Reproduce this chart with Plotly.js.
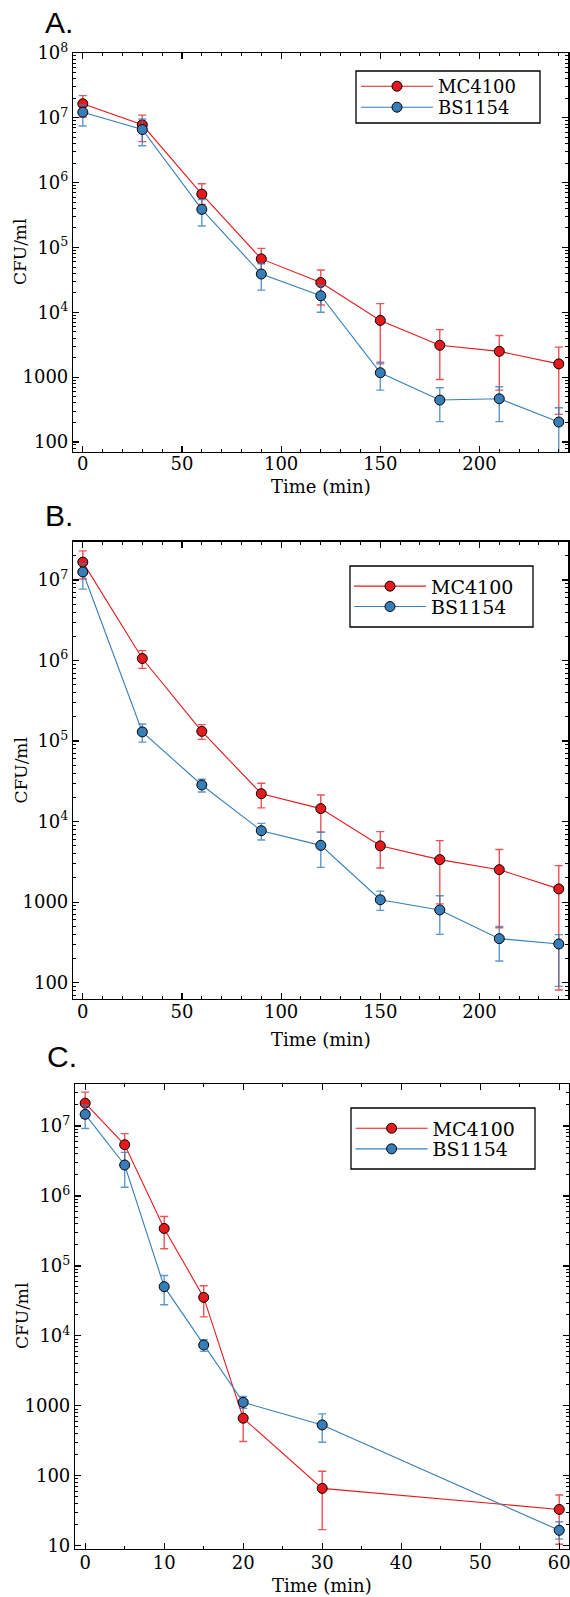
<!DOCTYPE html>
<html>
<head>
<meta charset="utf-8">
<script src="https://cdn.plot.ly/plotly-3.0.1.min.js"></script>
<style>html,body{margin:0;padding:0;background:#fff;}</style>
</head>
<body>
<div id="chart" style="width:570px;height:1597px;"></div>
<script>
// ---------------- data ----------------
const timesAB = [0, 30, 60, 90, 120, 150, 180, 210, 240];
const timesC = [0, 5, 10, 15, 20, 30, 60];

// Panel A
const aMC   = [1.65e7, 7.8e6, 6.65e5, 6.67e4, 2.88e4, 7.5e3, 3.1e3, 2.5e3, 1.6e3];
const aMCHi = [2.2e7, 1.1e7, 9.6e5, 9.7e4, 4.5e4, 1.36e4, 5.4e3, 4.4e3, 2.9e3];
const aMCLo = [1.03e7, 4.3e6, 4.6e5, 3.6e4, 1.3e4, 1.6e3, 920, 630, 267];
const aBS   = [1.22e7, 6.6e6, 3.87e5, 3.9e4, 1.8e4, 1.17e3, 443, 464, 203];
const aBSHi = [1.6e7, 9.6e6, 5.5e5, 5.6e4, 2.6e4, 1.7e3, 686, 710, 338];
const aBSLo = [7.5e6, 3.7e6, 2.14e5, 2.2e4, 1.0e4, 630, 206, 206, 50];

// Panel B
const bMC   = [1.67e7, 1.06e6, 1.32e5, 2.22e4, 1.45e4, 5.0e3, 3.37e3, 2.53e3, 1.46e3];
const bMCHi = [2.3e7, 1.33e6, 1.6e5, 3.0e4, 2.14e4, 7.5e3, 5.8e3, 4.5e3, 2.84e3];
const bMCLo = [1.03e7, 8.0e5, 1.05e5, 1.48e4, 7.4e3, 2.65e3, 950, 480, 81];
const bBS   = [1.26e7, 1.30e5, 2.85e4, 7.7e3, 5.07e3, 1.07e3, 800, 352, 302];
const bBSHi = [1.6e7, 1.63e5, 3.35e4, 9.5e3, 7.4e3, 1.37e3, 1.2e3, 500, 395];
const bBSLo = [7.7e6, 9.7e4, 2.33e4, 5.9e3, 2.7e3, 790, 398, 186, 90];

// Panel C
const cMC   = [2.12e7, 5.4e6, 3.43e5, 3.55e4, 664, 66, 33];
const cMCHi = [3.05e7, 7.8e6, 5.1e5, 5.2e4, 1.07e3, 116, 53];
const cMCLo = [1.3e7, 2.9e6, 1.76e5, 1.87e4, 309, 17, 10.5];
const cBS   = [1.47e7, 2.77e6, 5.05e4, 7.4e3, 1.12e3, 533, 16.6];
const cBSHi = [2.0e7, 4.2e6, 7.3e4, 8.8e3, 1.36e3, 767, 22];
const cBSLo = [9.2e6, 1.33e6, 2.79e4, 6.0e3, 920, 301, 12.4];

const seriesNames = ['MC4100', 'BS1154'];
const panelLabels = ['A.', 'B.', 'C.'];
const xTitle = 'Time (min)';
const yTitle = 'CFU/ml';
const yTickVals = [10, 100, 1000, 1e4, 1e5, 1e6, 1e7, 1e8];
const yTickText = ['10', '100', '1000', '10<sup>4</sup>', '10<sup>5</sup>', '10<sup>6</sup>', '10<sup>7</sup>', '10<sup>8</sup>'];

// ---------------- helpers ----------------
const W = 570, H = 1597;
const px = v => v / W;
const py = v => 1 - v / H;

const RED = 'rgb(228,26,28)';
const BLUE = 'rgb(55,126,184)';
const RED_ERR = 'rgba(228,26,28,0.75)';
const BLUE_ERR = 'rgba(55,126,184,0.8)';

const minorVals = [];
for (let k = 0; k <= 8; k++) for (let m = 2; m <= 9; m++) minorVals.push(m * Math.pow(10, k));

function trace(x, y, hi, lo, name, color, errColor, xa, ya, legend) {
  return {
    type: 'scatter', mode: 'lines+markers', x: x, y: y, name: name,
    xaxis: xa, yaxis: ya, legend: legend,
    line: {color: color, width: 1.1},
    marker: {color: color, size: 10, line: {color: 'black', width: 1}},
    error_y: {
      type: 'data', symmetric: false,
      array: y.map((v, i) => hi[i] - v),
      arrayminus: y.map((v, i) => v - lo[i]),
      color: errColor, thickness: 1.4, width: 4
    }
  };
}

const data = [
  trace(timesAB, aMC, aMCHi, aMCLo, seriesNames[0], RED, RED_ERR, 'x', 'y', 'legend'),
  trace(timesAB, aBS, aBSHi, aBSLo, seriesNames[1], BLUE, BLUE_ERR, 'x', 'y', 'legend2'),
  trace(timesAB, bMC, bMCHi, bMCLo, seriesNames[0], RED, RED_ERR, 'x2', 'y2', 'legend3'),
  trace(timesAB, bBS, bBSHi, bBSLo, seriesNames[1], BLUE, BLUE_ERR, 'x2', 'y2', 'legend4'),
  trace(timesC, cMC, cMCHi, cMCLo, seriesNames[0], RED, RED_ERR, 'x3', 'y3', 'legend5'),
  trace(timesC, cBS, cBSHi, cBSLo, seriesNames[1], BLUE, BLUE_ERR, 'x3', 'y3', 'legend6')
];

const SERIF = 'DejaVu Serif, Liberation Serif, serif';
const tickFont = {family: SERIF, size: 18, color: 'black'};
function baseAxis() {
  return {
    showline: true, linecolor: 'black', linewidth: 1.4, mirror: 'ticks',
    ticks: 'inside', ticklen: 6, tickwidth: 1.2, tickcolor: 'black',
    showgrid: false, zeroline: false, tickfont: tickFont, fixedrange: true,
    ticklabeloverflow: 'allow'
  };
}
function xAxis(domain, anchor, range, dtick, minorDtick, standoff) {
  return Object.assign(baseAxis(), {
    domain: domain, anchor: anchor, range: range, tickmode: 'linear', tick0: 0, dtick: dtick,
    ticklabelstandoff: standoff,
    minor: {ticks: 'inside', ticklen: 3, tickwidth: 1, tickcolor: 'black', tick0: 0, dtick: minorDtick, showgrid: false}
  });
}
function yAxis(domain, anchor, range) {
  return Object.assign(baseAxis(), {
    domain: domain, anchor: anchor, type: 'log', range: range,
    tickmode: 'array', tickvals: yTickVals, ticktext: yTickText,
    minor: {ticks: 'inside', ticklen: 3, tickwidth: 1, tickcolor: 'black', tickmode: 'array', tickvals: minorVals, showgrid: false}
  });
}

function legendAt(xLeft, yMid, size) {
  return {
    x: px(xLeft), y: py(yMid), xanchor: 'left', yanchor: 'middle',
    bgcolor: 'rgba(0,0,0,0)', borderwidth: 0, itemwidth: 72,
    font: {family: SERIF, size: size, color: 'black'}
  };
}

function box(x0, x1, y0, y1) {
  return {type: 'rect', xref: 'paper', yref: 'paper', x0: px(x0), x1: px(x1), y0: py(y1), y1: py(y0),
    line: {color: 'black', width: 1.3}, fillcolor: 'white', layer: 'below'};
}

function ann(text, x, y, opts) {
  return Object.assign({text: text, xref: 'paper', yref: 'paper', x: px(x), y: py(y),
    showarrow: false, xanchor: 'center', yanchor: 'middle',
    font: {family: SERIF, size: 18, color: 'black'}}, opts || {});
}
const letterFont = {family: 'Liberation Sans, Arial, sans-serif', size: 30, color: 'black'};
const yTitleFont = {family: SERIF, size: 17, color: 'black'};

const layout = {
  width: W, height: H, margin: {l: 0, r: 0, t: 0, b: 0},
  paper_bgcolor: 'white', plot_bgcolor: 'white', showlegend: true,
  xaxis: xAxis([px(73.3), px(568.3)], 'y', [-4.8, 244.8], 50, 10, -5),
  yaxis: yAxis([py(451.7), py(53)], 'x', [1.85, 8]),
  xaxis2: xAxis([px(73.3), px(568.3)], 'y2', [-4.8, 244.8], 50, 10, -4),
  yaxis2: yAxis([py(999), py(541.7)], 'x2', [1.797, 7.476]),
  xaxis3: xAxis([px(75.3), px(568.7)], 'y3', [-1.25, 61.2], 10, 5, -3),
  yaxis3: yAxis([py(1548.5), py(1084)], 'x3', [0.96, 7.601]),
  legend: legendAt(356, 86.5, 18),
  legend2: legendAt(356, 107.5, 18),
  legend3: legendAt(349, 586.3, 19),
  legend4: legendAt(349, 606.7, 19),
  legend5: legendAt(350.6, 1128.4, 19),
  legend6: legendAt(350.6, 1149, 19),
  shapes: [
    box(356, 540, 71, 123),
    box(350, 533, 566, 627),
    box(351, 535, 1108, 1169)
  ],
  annotations: [
    ann(panelLabels[0], 43, 22.5, {xanchor: 'left', font: letterFont}),
    ann(panelLabels[1], 43, 515, {xanchor: 'left', font: letterFont}),
    ann(panelLabels[2], 45, 1056.5, {xanchor: 'left', font: letterFont}),
    ann(yTitle, 20, 252, {textangle: -90, font: yTitleFont}),
    ann(yTitle, 20, 770.5, {textangle: -90, font: yTitleFont}),
    ann(yTitle, 22, 1316, {textangle: -90, font: yTitleFont}),
    ann(xTitle, 320.5, 486),
    ann(xTitle, 320.5, 1039),
    ann(xTitle, 322, 1585)
  ]
};

Plotly.newPlot('chart', data, layout, {displayModeBar: false, staticPlot: true});
</script>
</body>
</html>
